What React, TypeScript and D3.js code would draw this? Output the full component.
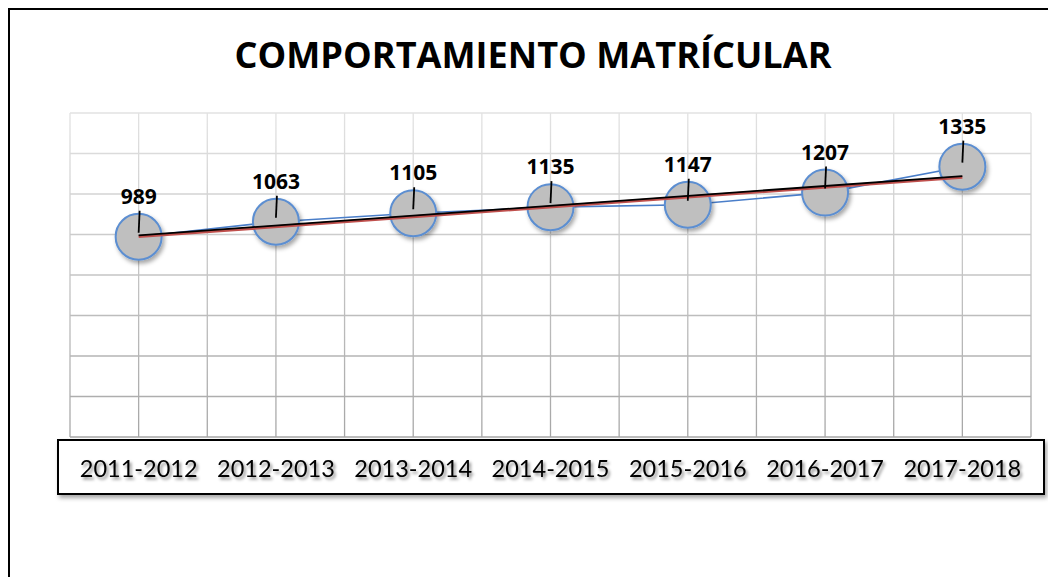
import React from "react";
import * as d3 from "d3";

const title = "COMPORTAMIENTO MATRÍCULAR";
const categories = ["2011-2012", "2012-2013", "2013-2014", "2014-2015", "2015-2016", "2016-2017", "2017-2018"];
const values = [989, 1063, 1105, 1135, 1147, 1207, 1335];
const yTicks = [0, 200, 400, 600, 800, 1000, 1200, 1400, 1600];

const W = 1048;
const H = 577;

export default function App() {
  const x = d3.scaleBand<string>().domain(categories).range([70, 1031]).padding(0);
  const y = d3.scaleLinear().domain([0, 1600]).range([437, 113]);
  const bw = x.bandwidth();
  const cx = (c: string) => (x(c) as number) + bw / 2;

  const pts = categories.map((c, i) => ({ c, v: values[i], px: cx(c), py: y(values[i]) }));

  // least-squares linear trendline
  const n = values.length;
  const idx = values.map((_, i) => i);
  const mx = d3.mean(idx) as number;
  const my = d3.mean(values) as number;
  const slope = d3.sum(idx.map((i) => (i - mx) * (values[i] - my))) / d3.sum(idx.map((i) => (i - mx) ** 2));
  const intercept = my - slope * mx;
  const t0 = intercept;
  const t1 = intercept + slope * (n - 1);
  const tx0 = cx(categories[0]);
  const tx1 = cx(categories[n - 1]);

  const line = d3.line<{ px: number; py: number }>().x((d) => d.px).y((d) => d.py);

  const vLines = d3.range(0, categories.length * 2 + 1).map((i) => 70 + (i * bw) / 2);
  const greyOf = d3.interpolateRgb("#E2E2E2", "#A6A6A6");

  return (
    <svg width={W} height={H} style={{ display: "block", position: "fixed", left: 0, top: 0 }}>
      <defs>
        <filter id="sh" x="-50%" y="-50%" width="200%" height="200%">
          <feDropShadow dx="2" dy="3" stdDeviation="2" floodColor="#000" floodOpacity="0.35" />
        </filter>
        <filter id="tsh" x="-20%" y="-40%" width="140%" height="200%">
          <feDropShadow dx="2" dy="2.5" stdDeviation="1.6" floodColor="#000" floodOpacity="0.45" />
        </filter>
        <linearGradient id="vg" gradientUnits="userSpaceOnUse" x1="0" y1={113} x2="0" y2={437}>
          <stop offset="0" stopColor="#E2E2E2" />
          <stop offset="1" stopColor="#A6A6A6" />
        </linearGradient>
      </defs>
      <rect x={0} y={0} width={W} height={H} fill="#fff" />
      {/* outer frame */}
      <rect x={9} y={9} width={W + 50} height={H + 50} fill="none" stroke="#000" strokeWidth={2} />

      {/* title */}
      <text
        x={533}
        y={68}
        textAnchor="middle"
        fontFamily="'Open Sans', Lato, sans-serif"
        fontWeight={700}
        fontSize={35}
        textLength={597}
        lengthAdjust="spacingAndGlyphs"
        fill="#000"
      >
        {title}
      </text>

      {/* grid */}
      {yTicks.map((t) => (
        <line
          key={"h" + t}
          x1={70}
          x2={1031}
          y1={y(t)}
          y2={y(t)}
          stroke={greyOf((y(t) - 113) / (437 - 113))}
          strokeWidth={1.3}
        />
      ))}
      {vLines.map((vx, i) => (
        <line key={"v" + i} x1={vx} x2={vx} y1={113} y2={437} stroke="url(#vg)" strokeWidth={1.3} />
      ))}

      {/* category axis box */}
      <rect x={58} y={440} width={986} height={54} fill="#fff" stroke="#000" strokeWidth={2} filter="url(#sh)" />
      {categories.map((c) => (
        <text
          key={c}
          x={cx(c)}
          y={477}
          textAnchor="middle"
          fontFamily="Lato, 'Open Sans', sans-serif"
          fontSize={23.5}
          fill="#000"
          filter="url(#tsh)"
        >
          {c}
        </text>
      ))}

      {/* data line */}
      <path d={line(pts) as string} fill="none" stroke="#4A7EC9" strokeWidth={1.6} />

      {/* markers */}
      {pts.map((p) => (
        <circle key={"c" + p.c} cx={p.px} cy={p.py} r={23} fill="#BFBFBF" stroke="#5B8ED1" strokeWidth={2} filter="url(#sh)" />
      ))}

      {/* trendline */}
      <line x1={tx0} y1={y(t0) + 0.8} x2={tx1} y2={y(t1) + 0.8} stroke="#C0504D" strokeWidth={3} />
      <line x1={tx0} y1={y(t0) - 0.4} x2={tx1} y2={y(t1) - 0.4} stroke="#000" strokeWidth={1.8} />

      {/* leader lines and labels */}
      {pts.map((p) => (
        <g key={"l" + p.c}>
          <line x1={p.px + 1} y1={p.py - 26} x2={p.px} y2={p.py - 4} stroke="#000" strokeWidth={1.8} />
          <text
            x={p.px}
            y={p.py - 33}
            textAnchor="middle"
            fontFamily="'Open Sans', Lato, sans-serif"
            fontWeight={700}
            fontSize={21}
            fill="#000"
          >
            {p.v}
          </text>
        </g>
      ))}
    </svg>
  );
}
